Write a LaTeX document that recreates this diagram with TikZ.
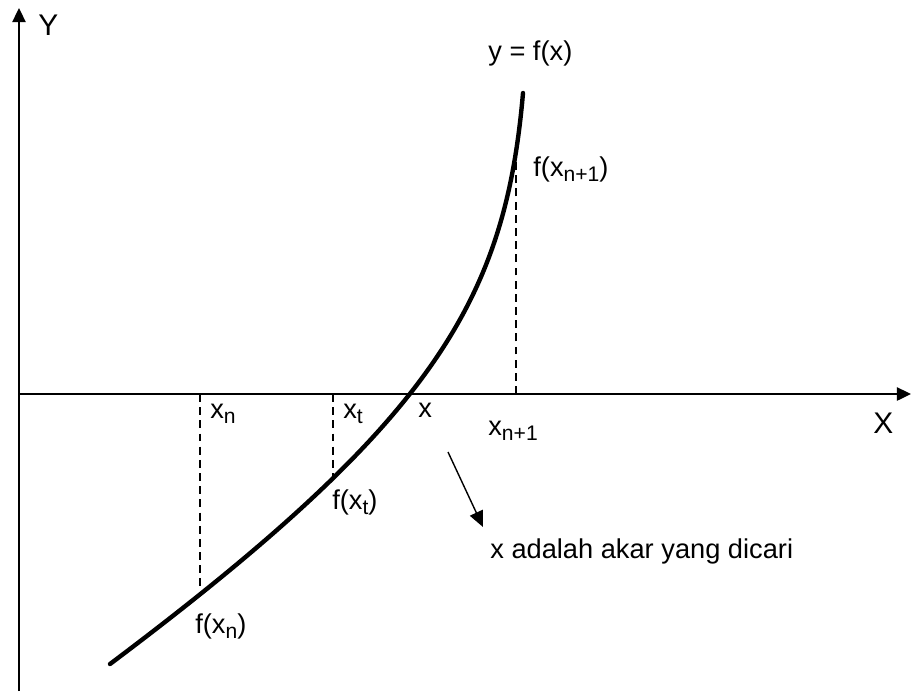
\documentclass[tikz,border=0pt]{standalone}
\usepackage{fontspec}
\setmainfont{Liberation Sans}
\usetikzlibrary{arrows.meta}
\newcommand\lowidx[1]{\raisebox{-0.35ex}{\fontsize{12}{12}\selectfont #1}}

\begin{document}
\begin{tikzpicture}[x=0.02cm,y=-0.02cm,line join=round,
  axis/.style={line width=1.1pt,-{Triangle[length=8pt,width=7.5pt]}},
  guide/.style={line width=1.1pt,dash pattern=on 4.5pt off 3pt},
  lbl/.style={font=\fontsize{15.5}{17}\selectfont,inner sep=0pt,anchor=base west},
  biglbl/.style={lbl,font=\fontsize{17}{19}\selectfont}]
  % canvas 911 x 691 (pixel grid, y downwards)
  \useasboundingbox (0,0) rectangle (911,691);

  % ---- axes ----
  \coordinate (ybot) at (19,691);
  \coordinate (ytop) at (19,8);
  \coordinate (xbeg) at (19,394);
  \coordinate (xend) at (911,394);
  \draw[axis] (ybot) -- (ytop);
  \draw[axis] (xbeg) -- (xend);

  % ---- curve y = f(x), with the points that the guides need ----
  \draw[line width=2.5pt,line cap=round]
    (110,664) .. controls (435,420) and (505,300) .. (523,93)
    coordinate[pos=0.1] (fn)
    coordinate[pos=0.29] (ft)
    coordinate[pos=0.9] (fn1);

  % dashed guides down/up to the X axis
  \draw[guide] (fn |- xbeg) -- (fn);
  \draw[guide] (ft |- xbeg) -- (ft);
  \draw[guide] (fn1 |- xbeg) -- (fn1);

  % ---- labels ----
  \node[biglbl] (ylbl) at (38,35) {Y};
  \node[biglbl] (xlbl) at (873,433) {X};
  \node[lbl] (kurva) at (488,60) {y = f(x)};
  \node[lbl] (lfn1) at (533,176) {f(x\lowidx{n+1})};
  \node[lbl] (lxn) at (210,418) {x\lowidx{n}};
  \node[lbl] (lxt) at (343,418) {x\lowidx{t}};
  \node[lbl] (lx) at (418,417) {x};
  \node[lbl] (lxn1) at (488,435) {x\lowidx{n+1}};
  \node[lbl] (lft) at (332,509) {f(x\lowidx{t})};
  \node[lbl] (lfn) at (195,633) {f(x\lowidx{n})};
  \node[lbl] (catatan) at (490,558) {x adalah akar yang dicari};

  % pointer to the note
  \coordinate (pa) at (448,452);
  \coordinate (pb) at (483,527);
  \draw[line width=0.8pt,-{Triangle[length=9pt,width=8pt]}] (pa) -- (pb);
\end{tikzpicture}
\end{document}
